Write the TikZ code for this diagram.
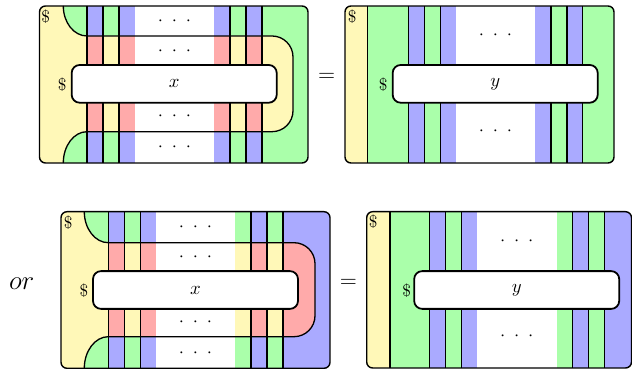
\documentclass[tikz,border=0pt]{standalone}
\usetikzlibrary{positioning}

\definecolor{ylw}{RGB}{255,248,184}
\definecolor{grn}{RGB}{170,255,170}
\definecolor{blu}{RGB}{170,170,255}
\definecolor{rd}{RGB}{255,170,170}

\begin{document}
\begin{tikzpicture}[
  x=0.535pt, y=-0.535pt,
  frame/.style={draw=black, line width=0.75pt, rounded corners=3.2pt},
  wire/.style={draw=black, line width=0.7pt},
  blk/.style={draw=black, fill=white, rounded corners=4.3pt, line width=0.95pt,
              minimum width=109.7pt, minimum height=20.2pt, inner sep=0pt, outer sep=0pt},
  lbl/.style={font=\small, inner sep=0pt},
  dts/.style={inner sep=0pt},
  rel/.style={inner sep=0pt, font=\large}
]
\useasboundingbox (0,0) rectangle (632,371);

% top left
\begin{scope}
  \clip[rounded corners=3.2pt] (39.5,6) rectangle (308,163);
  \fill[grn] (39.5,6) rectangle (308,163);
  \fill[ylw] (39.5,6) -- (63.3,6) .. controls (63.3,22.6) and (73.9,36) .. (87,36)
    -- (87,131.7) .. controls (73.9,131.7) and (63.3,145.7) .. (63.3,163) -- (39.5,163) -- cycle;
  \fill[ylw] (87,36) -- (272,36) .. controls (283.6,36) and (293,45.4) .. (293,57)
    -- (293,110.7) .. controls (293,122.3) and (283.6,131.7) .. (272,131.7) -- (87,131.7) -- cycle;
  \fill[blu] (87,6) rectangle (103,163);
  \fill[blu] (119,6) rectangle (135,163);
  \fill[white] (135,6) rectangle (214,163);
  \fill[blu] (214,6) rectangle (230,163);
  \fill[blu] (246,6) rectangle (262,163);
  \fill[rd] (87,36) rectangle (103,131.7);
  \fill[ylw] (103,36) rectangle (119,131.7);
  \fill[rd] (119,36) rectangle (135,131.7);
  \fill[rd] (214,36) rectangle (230,131.7);
  \fill[ylw] (230,36) rectangle (246,131.7);
  \fill[rd] (246,36) rectangle (262,131.7);
\end{scope}
\draw[wire] (87,6) -- (87,163) (103,6) -- (103,163) (119,6) -- (119,163)
  (230,6) -- (230,163) (246,6) -- (246,163) (262,6) -- (262,163);
\draw[wire] (63.3,6) .. controls (63.3,22.6) and (73.9,36) .. (87,36) -- (272,36)
  .. controls (283.6,36) and (293,45.4) .. (293,57) -- (293,110.7)
  .. controls (293,122.3) and (283.6,131.7) .. (272,131.7) -- (87,131.7)
  .. controls (73.9,131.7) and (63.3,145.7) .. (63.3,163);
\draw[frame] (39.5,6) rectangle (308,163);
\node[blk] (bx1) at (174.2,83.85) {$x$};
\node[lbl] (ca1) at (45.7,16.7) {\$};
\node[lbl] (cb1) at (62.3,85) {\$};
\node[dts] (da1) at (174.5,21) {$\cdot$\hspace{4.7pt}$\cdot$\hspace{4.7pt}$\cdot$};
\node[dts] (db1) at (174.5,51) {$\cdot$\hspace{4.7pt}$\cdot$\hspace{4.7pt}$\cdot$};
\node[dts] (dc1) at (174.5,116) {$\cdot$\hspace{4.7pt}$\cdot$\hspace{4.7pt}$\cdot$};
\node[dts] (dd1) at (174.5,147.5) {$\cdot$\hspace{4.7pt}$\cdot$\hspace{4.7pt}$\cdot$};

\node[rel] (eq1) at (326.7,77.3) {$=$};

% top right
\begin{scope}
  \clip[rounded corners=3.2pt] (345,6) rectangle (614,163);
  \fill[grn] (345,6) rectangle (614,163);
  \fill[ylw] (345,6) rectangle (367.7,163);
  \fill[blu] (408.3,6) rectangle (424.3,163);
  \fill[blu] (440.3,6) rectangle (456,163);
  \fill[white] (456,6) rectangle (535,163);
  \fill[blu] (535,6) rectangle (551,163);
  \fill[blu] (567,6) rectangle (582.7,163);
\end{scope}
\draw[wire] (367.7,6) -- (367.7,163) (408.3,6) -- (408.3,163) (424.3,6) -- (424.3,163)
  (440.3,6) -- (440.3,163) (551,6) -- (551,163) (567,6) -- (567,163) (582.7,6) -- (582.7,163);
\draw[frame] (345,6) rectangle (614,163);
\node[blk] (bx2) at (495.2,83.85) {$y$};
\node[lbl] (ca2) at (352.3,16.7) {\$};
\node[lbl] (cb2) at (383.3,85) {\$};
\node[dts] (da2) at (495.5,35.5) {$\cdot$\hspace{4.7pt}$\cdot$\hspace{4.7pt}$\cdot$};
\node[dts] (db2) at (495.5,131) {$\cdot$\hspace{4.7pt}$\cdot$\hspace{4.7pt}$\cdot$};

% bottom left
\node[inner sep=0pt, font=\Large] (or) at (21.7,283.3) {$or$};
\begin{scope}
  \clip[rounded corners=3.2pt] (61,211.7) rectangle (330,368.3);
  \fill[blu] (61,211.7) rectangle (330,368.3);
  \fill[ylw] (61,211.7) -- (84.3,211.7) .. controls (84.3,228.8) and (95.1,242.7) .. (108.3,242.7)
    -- (108.3,336.7) .. controls (95.1,336.7) and (84.3,350.9) .. (84.3,368.3) -- (61,368.3) -- cycle;
  \fill[grn] (84.3,211.7) .. controls (84.3,228.8) and (95.1,242.7) .. (108.3,242.7) -- (108.3,211.7) -- cycle;
  \fill[grn] (108.3,336.7) .. controls (95.1,336.7) and (84.3,350.9) .. (84.3,368.3) -- (108.3,368.3) -- cycle;
  \fill[rd] (108.3,242.7) -- (294,242.7) .. controls (305.6,242.7) and (315,252.1) .. (315,263.7)
    -- (315,315.7) .. controls (315,327.3) and (305.6,336.7) .. (294,336.7) -- (108.3,336.7) -- cycle;
  \fill[blu] (108.3,211.7) rectangle (124.3,368.3);
  \fill[grn] (124.3,211.7) rectangle (140.3,368.3);
  \fill[blu] (140.3,211.7) rectangle (156,368.3);
  \fill[white] (156,211.7) rectangle (235,368.3);
  \fill[grn] (235,211.7) rectangle (251,368.3);
  \fill[blu] (251,211.7) rectangle (267,368.3);
  \fill[grn] (267,211.7) rectangle (283,368.3);
  \fill[rd] (108.3,242.7) rectangle (124.3,336.7);
  \fill[ylw] (124.3,242.7) rectangle (140.3,336.7);
  \fill[rd] (140.3,242.7) rectangle (156,336.7);
  \fill[ylw] (235,242.7) rectangle (251,336.7);
  \fill[rd] (251,242.7) rectangle (267,336.7);
  \fill[ylw] (267,242.7) rectangle (283,336.7);
\end{scope}
\draw[wire] (108.3,211.7) -- (108.3,368.3) (124.3,211.7) -- (124.3,368.3) (140.3,211.7) -- (140.3,368.3)
  (251,211.7) -- (251,368.3) (267,211.7) -- (267,368.3) (283,211.7) -- (283,368.3);
\draw[wire] (84.3,211.7) .. controls (84.3,228.8) and (95.1,242.7) .. (108.3,242.7) -- (294,242.7)
  .. controls (305.6,242.7) and (315,252.1) .. (315,263.7) -- (315,315.7)
  .. controls (315,327.3) and (305.6,336.7) .. (294,336.7) -- (108.3,336.7)
  .. controls (95.1,336.7) and (84.3,350.9) .. (84.3,368.3);
\draw[frame] (61,211.7) rectangle (330,368.3);
\node[blk] (bx3) at (195.5,290) {$x$};
\node[lbl] (ca3) at (68.3,222.7) {\$};
\node[lbl] (cb3) at (84,290.5) {\$};
\node[dts] (da3) at (195.5,227) {$\cdot$\hspace{4.7pt}$\cdot$\hspace{4.7pt}$\cdot$};
\node[dts] (db3) at (195.5,257) {$\cdot$\hspace{4.7pt}$\cdot$\hspace{4.7pt}$\cdot$};
\node[dts] (dc3) at (195.5,322) {$\cdot$\hspace{4.7pt}$\cdot$\hspace{4.7pt}$\cdot$};
\node[dts] (dd3) at (195.5,353) {$\cdot$\hspace{4.7pt}$\cdot$\hspace{4.7pt}$\cdot$};

\node[rel] (eq2) at (348.3,283.3) {$=$};

% bottom right
\begin{scope}
  \clip[rounded corners=3.2pt] (366.7,211.7) rectangle (631.5,368);
  \fill[grn] (366.7,211.7) rectangle (631.5,368);
  \fill[ylw] (366.7,211.7) rectangle (390,368);
  \fill[blu] (429.3,211.7) rectangle (445.3,368);
  \fill[blu] (461.3,211.7) rectangle (476.7,368);
  \fill[white] (476.7,211.7) rectangle (557.3,368);
  \fill[blu] (572.7,211.7) rectangle (588.7,368);
  \fill[blu] (604.7,211.7) rectangle (631.5,368);
\end{scope}
\draw[wire] (390,211.7) -- (390,368) (429.3,211.7) -- (429.3,368) (445.3,211.7) -- (445.3,368)
  (461.3,211.7) -- (461.3,368) (572.7,211.7) -- (572.7,368) (588.7,211.7) -- (588.7,368)
  (604.7,211.7) -- (604.7,368);
\draw[frame] (366.7,211.7) rectangle (631.5,368);
\node[blk] (bx4) at (516.7,290) {$y$};
\node[lbl] (ca4) at (373.3,221.7) {\$};
\node[lbl] (cb4) at (406.7,290.7) {\$};
\node[dts] (da4) at (516.7,241.7) {$\cdot$\hspace{4.7pt}$\cdot$\hspace{4.7pt}$\cdot$};
\node[dts] (db4) at (516.7,336.7) {$\cdot$\hspace{4.7pt}$\cdot$\hspace{4.7pt}$\cdot$};
\end{tikzpicture}
\end{document}
